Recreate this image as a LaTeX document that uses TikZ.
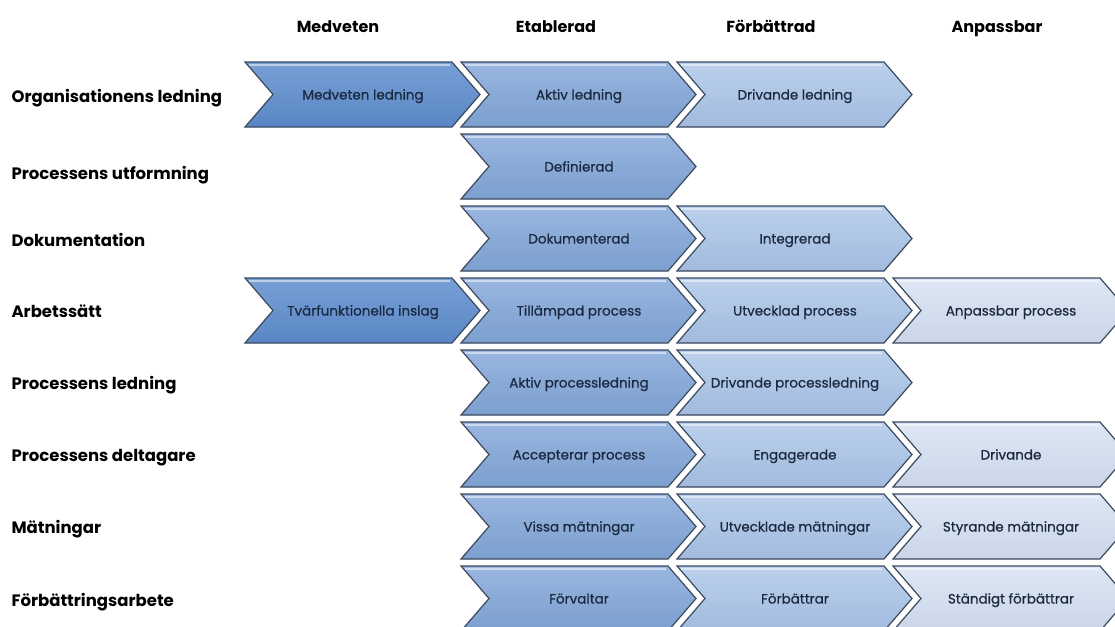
\documentclass[tikz,border=0pt]{standalone}
\usepackage{fontspec}
\setmainfont{Poppins}
\newfontfamily\cellfont[FakeBold=0.6]{Poppins}
\definecolor{edge}{HTML}{3B4A5E}
\definecolor{txt}{HTML}{1B2940}
\definecolor{lvA}{HTML}{5B8BCD}
\definecolor{lvB}{HTML}{82A6D8}
\definecolor{lvC}{HTML}{ABC5E8}
\definecolor{lvD}{HTML}{D6E2F3}
% one chevron: #1 name, #2 column, #3 row, #4 colour, #5 text
\newcommand\chevcell[5]{%
  \pgfmathsetmacro\cx{245+216*(#2-1)}%
  \pgfmathsetmacro\cy{94.5+72*(#3-1)}%
  \draw[white,line width=5pt,line join=miter]
    (\cx,\cy-32.5) -- ++(207,0) -- ++(28,32.5) -- ++(-28,32.5)
    -- ++(-207,0) -- ++(28,-32.5) -- cycle;
  \path[top color=#4!82!white,bottom color=#4!92!edge,draw=edge,
        line width=1.2pt,line join=miter]
    (\cx,\cy-32.5) -- ++(207,0) -- ++(28,32.5) -- ++(-28,32.5)
    -- ++(-207,0) -- ++(28,-32.5) -- cycle;
  \draw[white,opacity=.5,line width=1.2pt]
    (\cx+4,\cy-29.5) -- ++(201,0);
  \node[celltext] (#1) at (\cx+118,\cy+5) {#5};
}
\begin{document}
\begin{tikzpicture}[x=1pt,y=-1pt,
  celltext/.style={anchor=base,text=txt,font=\cellfont\fontsize{13.5}{15}\selectfont},
  rowlabel/.style={anchor=base west,font=\bfseries\fontsize{16.5}{18}\selectfont},
  colhead/.style={anchor=base,font=\bfseries\fontsize{16}{18}\selectfont}]
\useasboundingbox (0,0) rectangle (1115,626);

% column headings
\node[colhead] (h1) at (338,33) {Medveten};
\node[colhead] (h2) at (556,33) {Etablerad};
\node[colhead] (h3) at (771,33) {Förbättrad};
\node[colhead] (h4) at (997,33) {Anpassbar};

% row headings
\node[rowlabel] (r1) at (8,102) {Organisationens ledning};
\node[rowlabel] (r2) at (8,179) {Processens utformning};
\node[rowlabel] (r3) at (8,246) {Dokumentation};
\node[rowlabel] (r4) at (8,317) {Arbetssätt};
\node[rowlabel] (r5) at (8,389) {Processens ledning};
\node[rowlabel] (r6) at (8,461) {Processens deltagare};
\node[rowlabel] (r7) at (8,533) {Mätningar};
\node[rowlabel] (r8) at (8,606) {Förbättringsarbete};

% maturity chevrons, drawn left to right per row
\chevcell{c11}{1}{1}{lvA}{Medveten ledning}
\chevcell{c12}{2}{1}{lvB}{Aktiv ledning}
\chevcell{c13}{3}{1}{lvC}{Drivande ledning}

\chevcell{c22}{2}{2}{lvB}{Definierad}

\chevcell{c32}{2}{3}{lvB}{Dokumenterad}
\chevcell{c33}{3}{3}{lvC}{Integrerad}

\chevcell{c41}{1}{4}{lvA}{Tvärfunktionella inslag}
\chevcell{c42}{2}{4}{lvB}{Tillämpad process}
\chevcell{c43}{3}{4}{lvC}{Utvecklad process}
\chevcell{c44}{4}{4}{lvD}{Anpassbar process}

\chevcell{c52}{2}{5}{lvB}{Aktiv processledning}
\chevcell{c53}{3}{5}{lvC}{Drivande processledning}

\chevcell{c62}{2}{6}{lvB}{Accepterar process}
\chevcell{c63}{3}{6}{lvC}{Engagerade}
\chevcell{c64}{4}{6}{lvD}{Drivande}

\chevcell{c72}{2}{7}{lvB}{Vissa mätningar}
\chevcell{c73}{3}{7}{lvC}{Utvecklade mätningar}
\chevcell{c74}{4}{7}{lvD}{Styrande mätningar}

\chevcell{c82}{2}{8}{lvB}{Förvaltar}
\chevcell{c83}{3}{8}{lvC}{Förbättrar}
\chevcell{c84}{4}{8}{lvD}{Ständigt förbättrar}
\end{tikzpicture}
\end{document}
